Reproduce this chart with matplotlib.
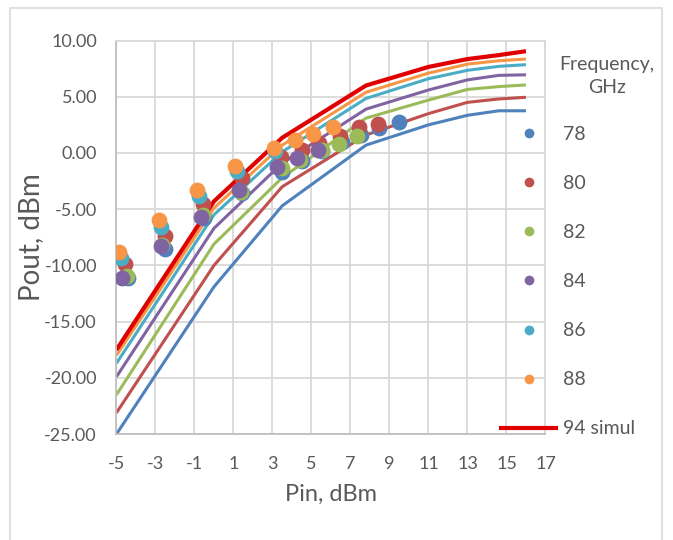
import matplotlib
matplotlib.use("Agg")
import matplotlib.pyplot as plt
from matplotlib.lines import Line2D
from matplotlib.patches import Rectangle

plt.rcParams['font.family'] = ['Lato', 'DejaVu Sans']
plt.rcParams['axes.unicode_minus'] = False

# simulated curves (shared Pin points)
sim_x = [-5, 0, 3.5, 7.8, 11, 13, 14.6, 16]
sim_94 = [-17.5, -4.3, 1.35, 6.0, 7.65, 8.35, 8.7, 9.05]
sim_88 = [-18.0, -4.9, 0.7, 5.4, 7.1, 7.9, 8.2, 8.35]
sim_86 = [-18.7, -5.5, 0.1, 4.85, 6.6, 7.35, 7.7, 7.85]
sim_84 = [-19.9, -6.7, -0.9, 3.9, 5.6, 6.5, 6.9, 6.95]
sim_82 = [-21.5, -8.1, -2.2, 3.1, 4.7, 5.65, 5.9, 6.05]
sim_80 = [-23.1, -10.0, -3.0, 1.6, 3.5, 4.5, 4.8, 4.95]
sim_78 = [-25.0, -11.9, -4.7, 0.7, 2.5, 3.35, 3.75, 3.75]

# measured points
f78_x = [-4.43, -2.51, -0.5, 1.45, 3.47, 4.5, 5.52, 6.55, 7.54, 8.46, 9.49]
f78_y = [-11.14, -8.56, -5.8, -3.6, -1.72, -0.68, 0.2, 1.0, 1.6, 2.19, 2.72]
f80_x = [-4.56, -2.51, -0.55, 1.45, 3.44, 4.5, 5.38, 6.46, 7.44, 8.4]
f80_y = [-9.87, -7.35, -4.53, -2.25, -0.33, 0.27, 0.86, 1.51, 2.28, 2.58]
f82_x = [-4.48, -2.65, -0.55, 1.38, 3.47, 4.41, 5.52, 6.41, 7.32]
f82_y = [-10.93, -8.18, -5.51, -3.44, -1.36, -0.62, 0.27, 0.8, 1.55]
f84_x = [-4.7, -2.72, -0.67, 1.28, 3.21, 4.24, 5.32]
f84_y = [-11.08, -8.27, -5.72, -3.29, -1.27, -0.47, 0.27]
f86_x = [-4.77, -2.72, -0.77, 1.18, 3.12]
f86_y = [-9.36, -6.55, -3.82, -1.57, 0.2]
f88_x = [-4.87, -2.82, -0.89, 1.08, 3.07, 4.15, 5.09, 6.12]
f88_y = [-8.77, -5.96, -3.29, -1.13, 0.44, 1.16, 1.69, 2.28]

freq_labels = ['78', '80', '82', '84', '86', '88']
colors = ['#4F81BD', '#C0504D', '#9BBB59', '#8064A2', '#4BACC6', '#F79646']
text_color = '#595959'

fig = plt.figure(figsize=(6.73, 5.4), dpi=100)
ax = fig.add_axes([0.173, 0.196, 0.6375, 0.729])

# simulated lines
sims = [sim_78, sim_80, sim_82, sim_84, sim_86, sim_88]
for ys, c in zip(sims, colors):
    ax.plot(sim_x, ys, color=c, lw=2.2, zorder=2, solid_capstyle='butt')
ax.plot(sim_x, sim_94, color='#E00000', lw=3.0, zorder=2, solid_capstyle='butt')

# measured points
meas = [(f78_x, f78_y), (f80_x, f80_y), (f82_x, f82_y),
        (f84_x, f84_y), (f86_x, f86_y), (f88_x, f88_y)]
for (xs, ys), c in zip(meas, colors):
    ax.scatter(xs, ys, s=130, color=c, zorder=3, linewidths=0)

ax.set_xlim(-5, 17)
ax.set_ylim(-25, 10)
ax.set_xticks(range(-5, 18, 2))
ax.set_yticks(range(-25, 11, 5))
ax.set_yticklabels([f'{v:.2f}' for v in range(-25, 11, 5)])
ax.grid(True, color='#D9D9D9', lw=1.3)
ax.set_axisbelow(True)
ax.tick_params(length=0, labelsize=13, labelcolor=text_color)
ax.tick_params(axis='x', pad=16)
ax.tick_params(axis='y', pad=14)
for side in ['top', 'right']:
    ax.spines[side].set_color('#D9D9D9')
    ax.spines[side].set_linewidth(1.3)
for side in ['left', 'bottom']:
    ax.spines[side].set_color('#BFBFBF')
    ax.spines[side].set_linewidth(1.3)

ax.set_xlabel('Pin, dBm', fontsize=17, color=text_color, labelpad=8)
ax.set_ylabel('Pout, dBm', fontsize=20, color=text_color, labelpad=0)

# legend
handles = [Line2D([], [], ls='none', marker='o', ms=7, mec='none', color=c) for c in colors]
handles.append(Line2D([], [], color='#E00000', lw=3))
labels = freq_labels + ['94 simul']
leg = fig.legend(handles, labels, loc='upper left', bbox_to_anchor=(501 / 673, 1 - 126 / 540),
                 frameon=False, fontsize=14, labelspacing=1.65, handlelength=2.85,
                 handletextpad=0.35, borderpad=0, borderaxespad=0)
for t in leg.get_texts():
    t.set_color(text_color)
fig.text(607 / 673, 1 - 76 / 540, 'Frequency,\nGHz', ha='center', va='center',
         fontsize=14, color=text_color, linespacing=1.45)

# chart area frame
fig.patches.append(Rectangle((10 / 673, -0.01), 652 / 673, 1 - 8 / 540 + 0.01,
                             transform=fig.transFigure, fill=False,
                             edgecolor='#D9D9D9', lw=1.2))

fig.savefig('out.png', dpi=100)
